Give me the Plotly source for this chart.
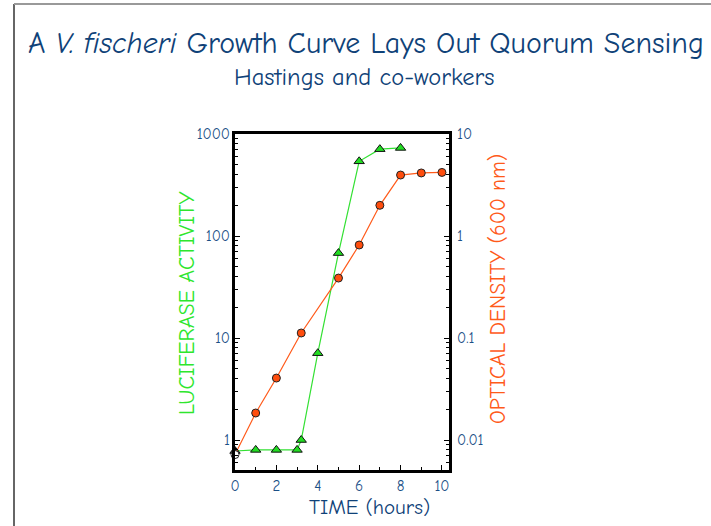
import plotly.graph_objects as go

# ---- data ----
time_luciferase = [0, 1, 2, 3, 3.2, 4, 5, 6, 7, 8]
luciferase_activity = [0.78, 0.8, 0.8, 0.8, 1.0, 7.1, 68, 540, 710, 730]

time_od = [0, 1, 2, 3.2, 5, 6, 7, 8, 9, 10]
optical_density = [0.0072, 0.0184, 0.0405, 0.112, 0.387, 0.816, 2.0, 3.96, 4.15, 4.2]

x_ticks = [0, 2, 4, 6, 8, 10]
left_ticks = [1, 10, 100, 1000]
left_tick_text = ["1", "10", "100", "1000"]
right_ticks = [0.01, 0.1, 1, 10]
right_tick_text = ["0.01", "0.1", "1", "10"]

title_text = "A <i>V. fischeri</i> Growth Curve Lays Out Quorum Sensing"
subtitle_text = "Hastings and co-workers"

# ---- styling ----
FONT = "Comic Sans MS, Comic Neue, Noto Sans, sans-serif"
BLUE = "#0f4278"
TICKBLUE = "#1a4f86"
GREEN = "#2ee62e"
ORANGE = "#ff5a1a"

W, H = 711, 526
L, R, T, B = 235, 262, 134, 56
pw, ph = W - L - R, H - T - B


def px(x):
    return (x - L) / pw


def py(y):
    return (H - B - y) / ph


fig = go.Figure()

fig.add_trace(go.Scatter(
    x=time_od, y=optical_density, yaxis="y2", mode="lines+markers",
    line=dict(color=ORANGE, width=1.2),
    marker=dict(symbol="circle", size=8,
                color=["white"] + ["#ff4d0d"] * (len(time_od) - 1),
                line=dict(color="#222", width=1)),
    cliponaxis=False, showlegend=False, name="OD 600 nm"))

fig.add_trace(go.Scatter(
    x=time_luciferase, y=luciferase_activity, yaxis="y", mode="lines+markers",
    line=dict(color="#33e033", width=1.2),
    marker=dict(symbol="triangle-up", size=9,
                color=["black"] + ["#22dd22"] * (len(time_luciferase) - 1),
                line=dict(color="#111", width=1)),
    cliponaxis=False, showlegend=False, name="Luciferase"))

tickfont = dict(family=FONT, size=15, color=TICKBLUE)

fig.update_layout(
    width=W, height=H,
    margin=dict(l=L, r=R, t=T, b=B, pad=0),
    paper_bgcolor="white", plot_bgcolor="white",
    font=dict(family=FONT, color=BLUE),
    xaxis=dict(range=[0, 10.34], tickvals=x_ticks, ticks="inside", ticklen=5,
               tickwidth=1, tickcolor="black", showline=True, linewidth=3,
               linecolor="black", mirror=True, showgrid=False, zeroline=False,
               tickfont=tickfont,
               minor=dict(ticks="inside", dtick=1, tick0=0, ticklen=3,
                          tickcolor="black", showgrid=False)),
    yaxis=dict(type="log", range=[-0.294, 3], tickvals=left_ticks,
               ticktext=left_tick_text, ticks="inside", ticklen=5, tickwidth=1,
               tickcolor="black", showline=True, linewidth=3, linecolor="black",
               mirror=True, showgrid=False, zeroline=False, tickfont=tickfont,
               ticklabelstandoff=-1,
               minor=dict(ticks="inside", dtick="D1", ticklen=3,
                          tickcolor="black", showgrid=False)),
    yaxis2=dict(type="log", range=[-2.294, 1], overlaying="y", side="right",
                tickvals=right_ticks, ticktext=right_tick_text, ticks="inside",
                ticklen=5, tickwidth=1, tickcolor="black", showline=True,
                linewidth=3, linecolor="black", showgrid=False, zeroline=False,
                tickfont=tickfont, ticklabelstandoff=2,
                minor=dict(ticks="inside", dtick="D1", ticklen=3,
                           tickcolor="black", showgrid=False)),
)

annotations = [
    dict(text=title_text, x=px(366), y=py(43), font=dict(size=30, color=BLUE)),
    dict(text=subtitle_text, x=px(364), y=py(77), font=dict(size=24.5, color=BLUE)),
    dict(text="LUCIFERASE ACTIVITY", x=px(187), y=py(303), textangle=-90,
         font=dict(size=22, color=GREEN)),
    dict(text="OPTICAL DENSITY (600 nm)", x=px(498), y=py(289), textangle=-90,
         font=dict(size=21.5, color=ORANGE)),
    dict(text="TIME (hours)", x=px(369), y=py(507), font=dict(size=21, color=BLUE)),
]
for a in annotations:
    a.update(xref="paper", yref="paper", showarrow=False,
             xanchor="center", yanchor="middle")
    a["font"]["family"] = FONT
fig.update_layout(annotations=annotations)

# slide frame lines
fig.add_shape(type="line", xref="paper", yref="paper",
              x0=px(14), x1=px(14), y0=py(4), y1=py(526),
              line=dict(color="#666", width=2))
fig.add_shape(type="line", xref="paper", yref="paper",
              x0=px(14), x1=px(711), y0=py(4), y1=py(4),
              line=dict(color="#999", width=2))

fig.write_html("out.html", config={"displayModeBar": False},
               post_script="document.body.style.margin='0';")
